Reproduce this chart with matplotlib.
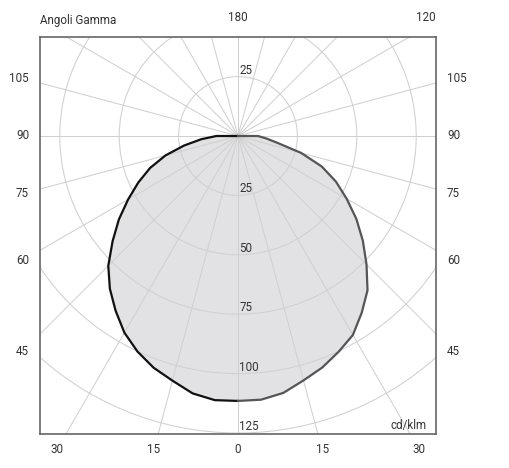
import numpy as np
import matplotlib.pyplot as plt
from matplotlib.patches import Circle

plt.rcParams['font.family'] = ['Roboto', 'DejaVu Sans']

# gamma angles (deg from nadir) and intensities in cd/klm
gamma = [0, 5, 10, 15, 20, 25, 30, 35, 40, 45, 50, 55, 60, 65, 70, 75, 80, 85, 90, 95]
# C180 plane (left half, black)
i_left = [111.5, 111.6, 110.0, 106.6, 103.8, 100.1, 95.6, 89.8, 83.9, 77.2,
          68.9, 61.2, 53.4, 46.3, 39.4, 31.6, 23.0, 15.5, 9.1, 0]
# C0 plane (right half, gray)
i_right = [111.5, 111.4, 109.8, 106.5, 103.7, 100.2, 96.7, 90.8, 84.8, 76.5,
           68.6, 60.8, 52.8, 45.5, 37.5, 27.5, 17.0, 12.0, 8.4, 0]

rings = [25, 50, 75, 100, 125]
side_labels = [105, 90, 75, 60, 45]
bottom_labels = [30, 15, 0, 15, 30]

txt = '#333333'
grid = '#d0d0d0'
fs = 8.4

fig = plt.figure(figsize=(5.09, 4.68), dpi=100)
ax = fig.add_axes([40 / 509, 34 / 468, 396 / 509, 397 / 468])
px = 2.376  # pixels per cd/klm
ax.set_xlim(-198 / px, 198 / px)
ax.set_ylim(-298 / px, 99 / px)
ax.set_xticks([])
ax.set_yticks([])
for s in ax.spines.values():
    s.set_color('#666666')
    s.set_linewidth(1.2)

# polar grid
for r in rings:
    ax.add_patch(Circle((0, 0), r, fill=False, ec=grid, lw=0.75, zorder=2))
for a in range(0, 360, 15):
    t = np.radians(a)
    ax.plot([0, 300 * np.sin(t)], [0, -300 * np.cos(t)], color=grid, lw=0.75, zorder=2)

# curve
g = np.radians(gamma)
xl = -np.array(i_left) * np.sin(g)
yl = -np.array(i_left) * np.cos(g)
xr = np.array(i_right) * np.sin(g)
yr = -np.array(i_right) * np.cos(g)
ax.fill(np.concatenate([xl, xr[::-1]]), np.concatenate([yl, yr[::-1]]),
        color='#e2e2e4', lw=0, zorder=1)
ax.plot(xl, yl, color='#111111', lw=1.6, zorder=3, solid_joinstyle='round')
ax.plot(xr, yr, color='#555555', lw=1.6, zorder=3, solid_joinstyle='round')

# ring labels
for r in rings:
    ax.text(0.6, -r, str(r), ha='left', va='bottom', fontsize=fs, color=txt, zorder=4)
ax.text(0.6, rings[0], str(rings[0]), ha='left', va='bottom', fontsize=fs, color=txt, zorder=4)
ax.text(79.5, -124.5, 'cd/klm', ha='right', va='bottom', fontsize=fs, color=txt)

# angle labels around the box
xe = 198 / px
for a in side_labels:
    y = (xe + 7.5) / np.tan(np.radians(a)) * -1
    ax.text(-(xe + 4.6), y, str(a), ha='right', va='center', fontsize=fs, color=txt, clip_on=False)
    ax.text(xe + 4.6, y, str(a), ha='left', va='center', fontsize=fs, color=txt, clip_on=False)
yb = -314 / px
for k, a in enumerate(bottom_labels):
    sgn = -1 if k < 2 else 1
    ax.text(sgn * -yb * np.tan(np.radians(a)), yb, str(a), ha='center', va='center',
            fontsize=fs, color=txt, clip_on=False)
yt = 118 / px
ax.text(0, yt, '180', ha='center', va='center', fontsize=fs, color=txt, clip_on=False)
ax.text(xe, yt, '120', ha='right', va='center', fontsize=fs, color=txt, clip_on=False)
ax.text(-xe, yt - 1, 'Angoli Gamma', ha='left', va='center', fontsize=fs, color=txt, clip_on=False)

fig.savefig('out.png', dpi=100)
